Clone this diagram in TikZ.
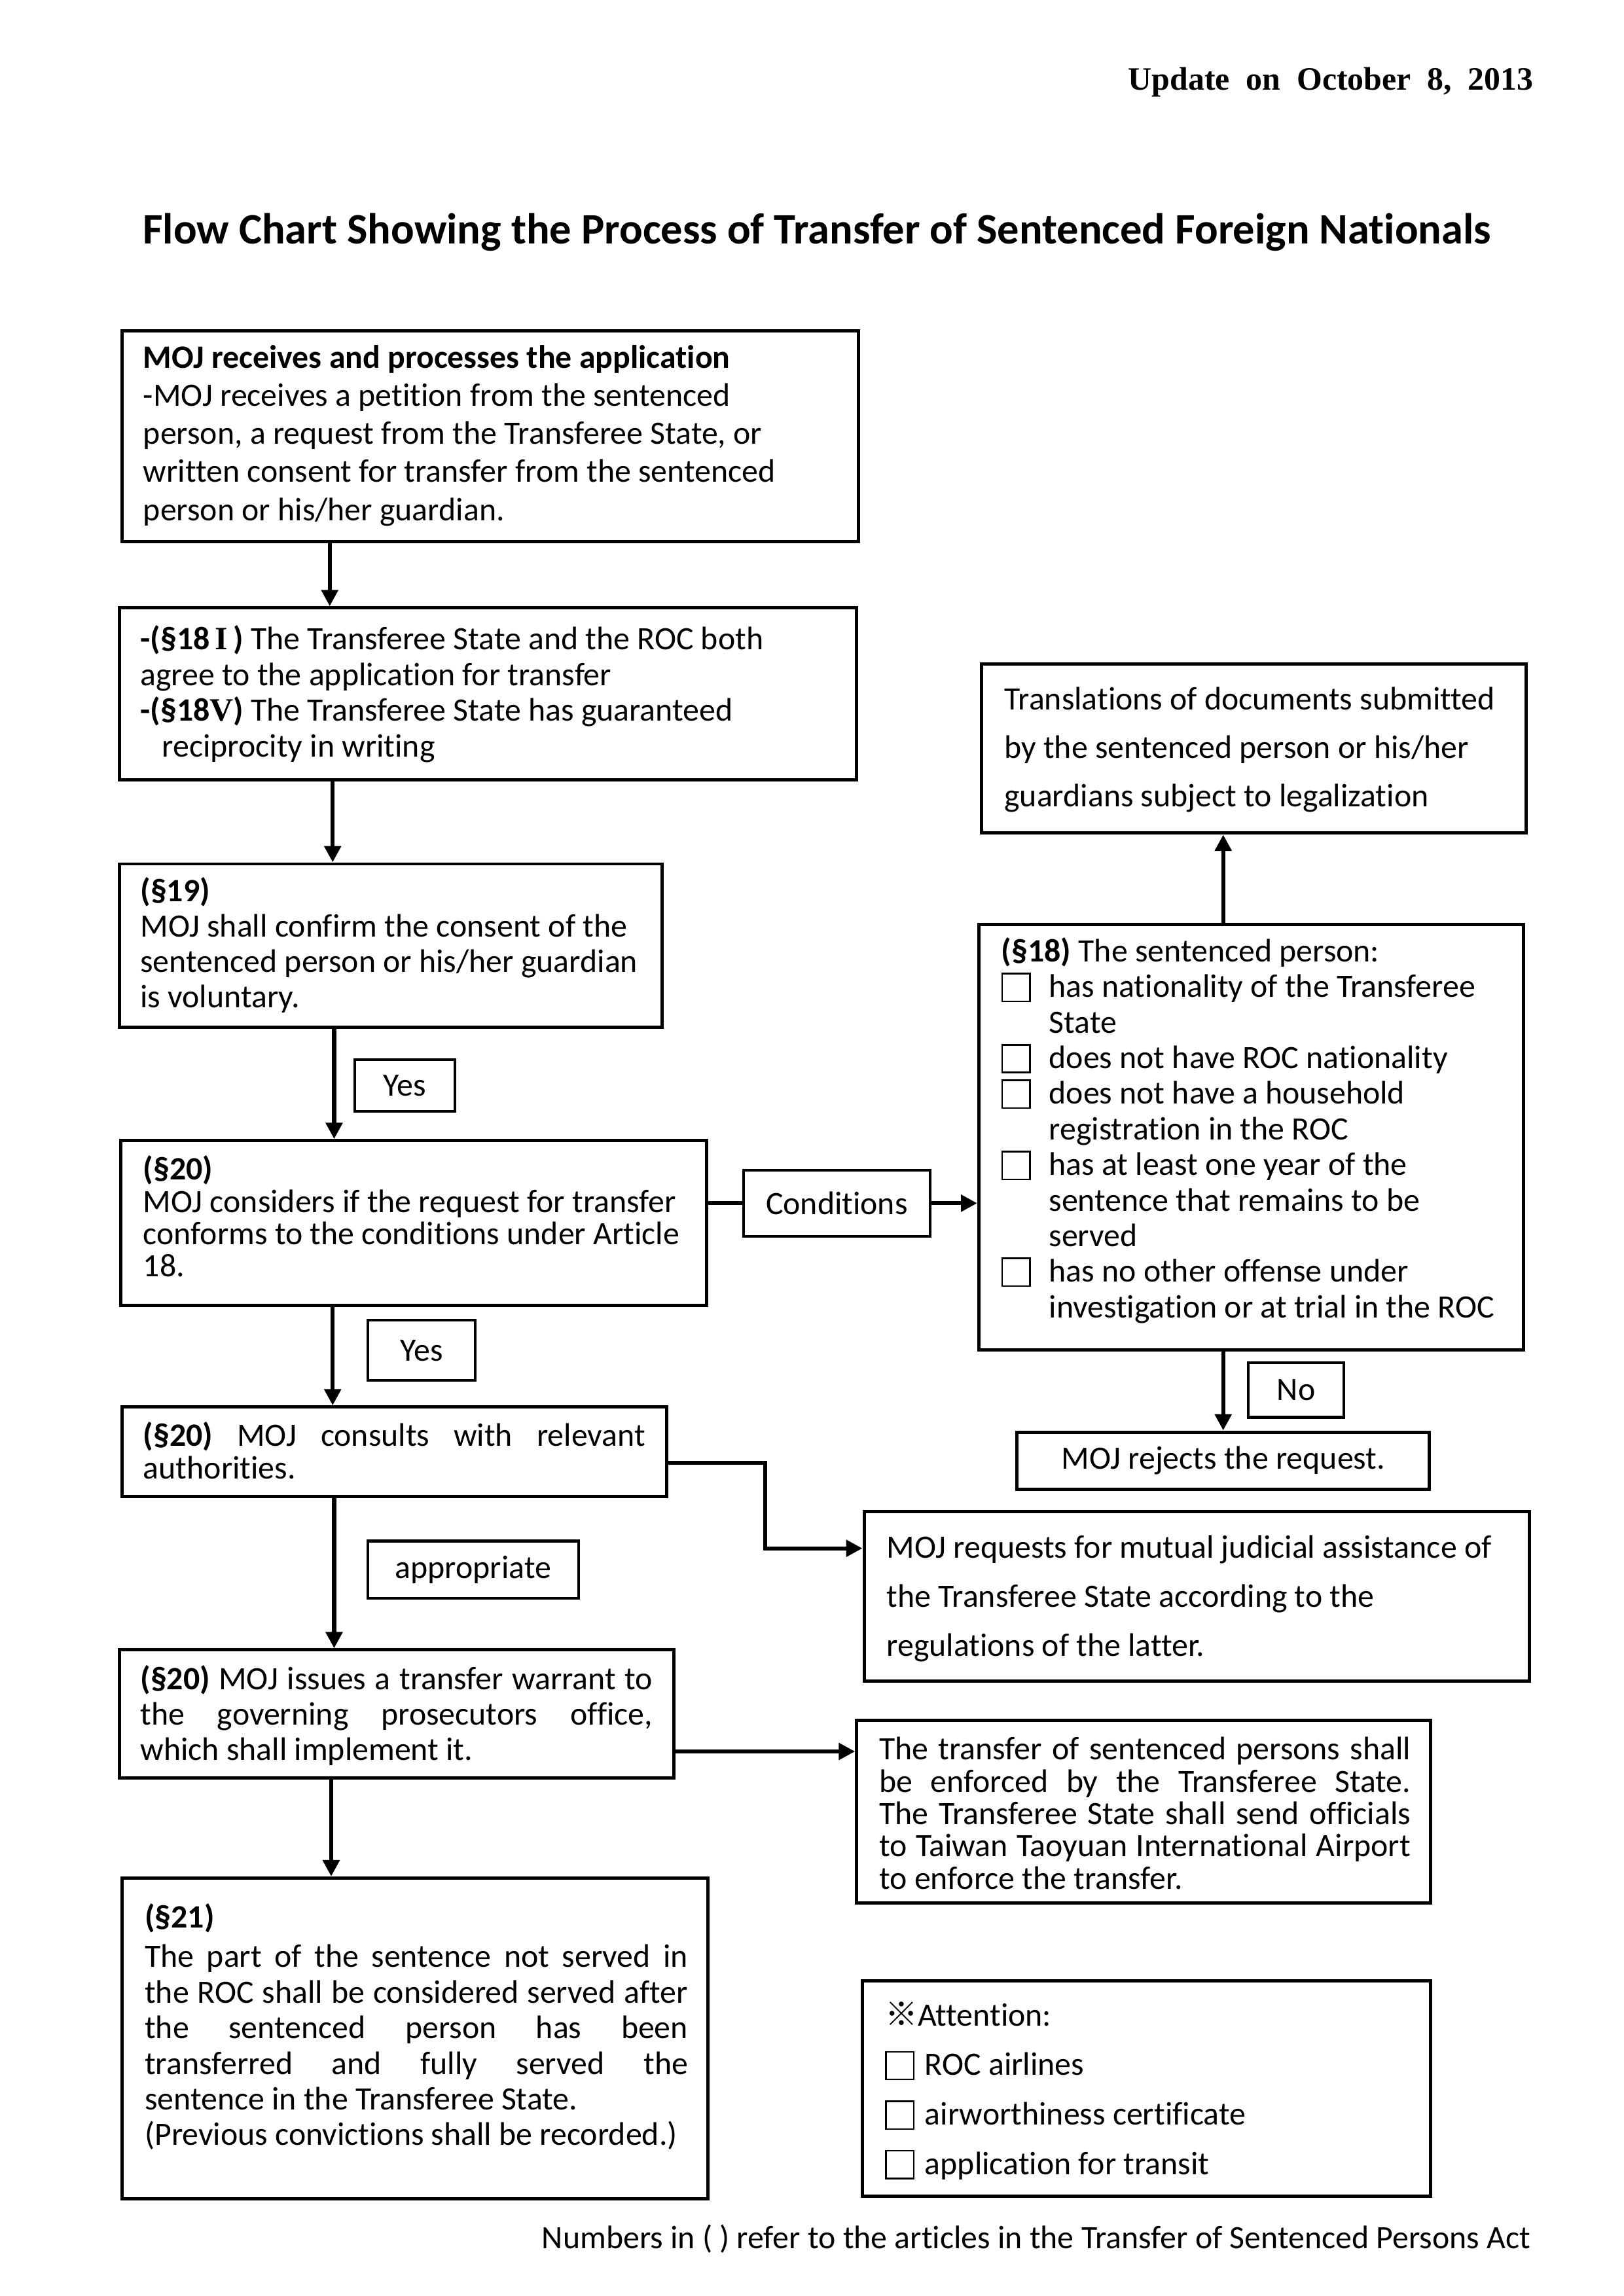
\documentclass[tikz,border=0pt]{standalone}
\usepackage{fontspec}
\setmainfont{Carlito}[Ligatures=NoCommon]
\newfontfamily\hdrfont{Liberation Serif}
\newfontfamily\cjkfont{Noto Sans CJK TC}
\usetikzlibrary{arrows.meta}
\newdimen\ovu \ovu=0.190385mm
\newcommand\cbx{{\setlength\fboxsep{0pt}\setlength\fboxrule{0.6pt}\raisebox{-1.2pt}{\fbox{\rule{0pt}{9.6pt}\rule{9.6pt}{0pt}}}}}
\newcommand\jl[2]{\makebox[#1\ovu][s]{#2}}
\begin{document}
\begin{tikzpicture}[x=0.190385mm, y=-0.190385mm,
  box/.style={draw, line width=1.2pt, inner sep=0pt},
  lbl/.style={draw, line width=1pt, inner sep=0pt, font=\fontsize{12}{14}\selectfont},
  txt/.style={inner sep=0pt, anchor=west, align=left},
  conn/.style={line width=1.5pt},
  arr/.style={line width=1.5pt, -{Triangle[length=6pt,width=6pt]}}]
\useasboundingbox (0,0) rectangle (1103,1560);

% header, title, footer
\node[anchor=east, inner sep=0pt, font=\hdrfont\bfseries\fontsize{12}{14}\selectfont] (hdr) at (1042,56)
  {Update\hspace{0.5em}on\hspace{0.5em}October\hspace{0.5em}8,\hspace{0.5em}2013};
\node[inner sep=0pt, font=\bfseries\fontsize{16}{19}\selectfont] (title) at (555,158)
  {Flow Chart Showing the Process of Transfer of Sentenced Foreign Nationals};
\node[anchor=east, inner sep=0pt, font=\fontsize{12}{14}\selectfont] (foot) at (1040,1521)
  {Numbers in ( ) refer to the articles in the Transfer of Sentenced Persons Act};

% box 1
\node[box, minimum width=500\ovu, minimum height=143\ovu] (b1) at (333,296.5) {};
\node[txt, font=\fontsize{12}{14}\selectfont] (t1) at (97,296)
  {\textbf{MOJ receives and processes the application}\\
   -MOJ receives a petition from the sentenced\\
   person, a request from the Transferee State, or\\
   written consent for transfer from the sentenced\\
   person or his/her guardian.};

% box 2
\node[box, minimum width=501\ovu, minimum height=117\ovu] (b2) at (331.5,471.5) {};
\node[txt, font=\fontsize{12}{13.1}\selectfont] (t2) at (95,471.5)
  {\textbf{-(§18\,{\hdrfont I}\,)} The Transferee State and the ROC both\\
   agree to the application for transfer\\
   \textbf{-(§18{\hdrfont V})} The Transferee State has guaranteed\\
   \hspace*{8pt}reciprocity in writing};

% box 3
\node[box, minimum width=369\ovu, minimum height=111\ovu] (b3) at (265.5,642.5) {};
\node[txt, font=\fontsize{12}{13}\selectfont] (t3) at (95,642)
  {\textbf{(§19)}\\
   MOJ shall confirm the consent of the\\
   sentenced person or his/her guardian\\
   is voluntary.};

% box 4
\node[box, minimum width=398\ovu, minimum height=112\ovu] (b4) at (281,831) {};
\node[txt, font=\fontsize{12}{11.9}\selectfont] (t4) at (97,826.5)
  {\textbf{(§20)}\\
   MOJ considers if the request for transfer\\
   conforms to the conditions under Article\\
   18.};

% box 5 (conditions)
\node[box, minimum width=370\ovu, minimum height=289\ovu] (b5) at (850,772.5) {};
\node[txt, font=\fontsize{12}{13.1}\selectfont] (t5) at (680,768)
  {\textbf{(§18)} The sentenced person:\\
   \makebox[17.5pt][l]{\cbx}has nationality of the Transferee\\
   \hspace*{17.5pt}State\\
   \makebox[17.5pt][l]{\cbx}does not have ROC nationality\\
   \makebox[17.5pt][l]{\cbx}does not have a household\\
   \hspace*{17.5pt}registration in the ROC\\
   \makebox[17.5pt][l]{\cbx}has at least one year of the\\
   \hspace*{17.5pt}sentence that remains to be\\
   \hspace*{17.5pt}served\\
   \makebox[17.5pt][l]{\cbx}has no other offense under\\
   \hspace*{17.5pt}investigation or at trial in the ROC};

% translations box
\node[box, minimum width=370\ovu, minimum height=115\ovu] (tr) at (852,508.5) {};
\node[txt, font=\fontsize{12}{17.8}\selectfont] (ttr) at (682,509.5)
  {Translations of documents submitted\\
   by the sentenced person or his/her\\
   guardians subject to legalization};

% rejects
\node[box, minimum width=280\ovu, minimum height=39\ovu, font=\fontsize{12}{14}\selectfont] (rej) at (831,992.5)
  {MOJ rejects the request.};

% box 6
\node[box, minimum width=370\ovu, minimum height=61\ovu] (b6) at (268,986.5) {};
\node[txt, font=\fontsize{12}{11.9}\selectfont] (t6) at (97,985.5)
  {\jl{341}{\textbf{(§20)} MOJ consults with relevant}\\
   authorities.};

% box 7
\node[box, minimum width=452\ovu, minimum height=115\ovu] (b7) at (813,1084.5) {};
\node[txt, font=\fontsize{12}{18.1}\selectfont] (t7) at (602,1086)
  {MOJ requests for mutual judicial assistance of\\
   the Transferee State according to the\\
   regulations of the latter.};

% box 8
\node[box, minimum width=377\ovu, minimum height=87\ovu] (b8) at (269.5,1164.5) {};
\node[txt, font=\fontsize{12}{13}\selectfont] (t8) at (95,1165.5)
  {\jl{348}{\textbf{(§20)} MOJ issues a transfer warrant to}\\
   \jl{348}{the governing prosecutors office,}\\
   which shall implement it.};

% box 9
\node[box, minimum width=390\ovu, minimum height=124\ovu] (b9) at (777,1231) {};
\node[txt, font=\fontsize{12}{11.9}\selectfont] (t9) at (597,1232)
  {\jl{361}{The transfer of sentenced persons shall}\\
   \jl{361}{be enforced by the Transferee State.}\\
   \jl{361}{The Transferee State shall send officials}\\
   \jl{361}{to Taiwan Taoyuan International Airport}\\
   to enforce the transfer.};

% box 10
\node[box, minimum width=398\ovu, minimum height=218\ovu] (b10) at (282,1385) {};
\node[txt, font=\fontsize{12}{13.1}\selectfont] (t10) at (98,1377)
  {\textbf{(§21)}\\[1.5pt]
   \jl{369}{The part of the sentence not served in}\\
   \jl{369}{the ROC shall be considered served after}\\
   \jl{369}{the sentenced person has been}\\
   \jl{369}{transferred and fully served the}\\
   sentence in the Transferee State.\\
   (Previous convictions shall be recorded.)};

% attention box
\node[box, minimum width=386\ovu, minimum height=146\ovu] (att) at (779,1419) {};
\node[txt, font=\fontsize{12}{18.2}\selectfont] (tatt) at (601,1420.5)
  {{\cjkfont ※}Attention:\\
   \makebox[14.6pt][l]{\cbx}ROC airlines\\
   \makebox[14.6pt][l]{\cbx}airworthiness certificate\\
   \makebox[14.6pt][l]{\cbx}application for transit};

% labels
\node[lbl, minimum width=68\ovu, minimum height=35\ovu] (yes1) at (275,737.5) {Yes};
\node[lbl, minimum width=73\ovu, minimum height=41\ovu] (yes2) at (286.5,917.5) {Yes};
\node[lbl, minimum width=65\ovu, minimum height=37\ovu] (no) at (880.5,944.5) {No};
\node[lbl, minimum width=127\ovu, minimum height=45\ovu] (cond) at (568.5,817.5) {Conditions};
\node[lbl, minimum width=143\ovu, minimum height=39\ovu] (appr) at (321.5,1066.5) {appropriate};

% connector columns / rows
\coordinate (c1) at (224,0);
\coordinate (c2) at (226,0);
\coordinate (c3) at (227,0);
\coordinate (c4) at (831,0);
\coordinate (c5) at (225,0);
\coordinate (e1) at (520,994);
\coordinate (e2) at (520,1052);
\coordinate (r1) at (0,1190);

% connectors
\draw[arr] (b1.south -| c1) -- (b2.north -| c1);
\draw[arr] (b2.south -| c2) -- (b3.north -| c2);
\draw[arr] (b3.south -| c3) -- (b4.north -| c3);
\draw[conn] (cond.west -| b4.east) -- (cond.west);
\draw[arr] (cond.east) -- (cond.east -| b5.west);
\draw[arr] (b5.north -| c4) -- (tr.south -| c4);
\draw[arr] (b5.south -| c4) -- (rej.north -| c4);
\draw[arr] (b4.south -| c2) -- (b6.north -| c2);
\draw[arr] (e1 -| b6.east) -- (e1) -- (e2) -- (e2 -| b7.west);
\draw[arr] (b6.south -| c3) -- (b8.north -| c3);
\draw[arr] (r1 -| b8.east) -- (r1 -| b9.west);
\draw[arr] (b8.south -| c5) -- (b10.north -| c5);
\end{tikzpicture}
\end{document}
